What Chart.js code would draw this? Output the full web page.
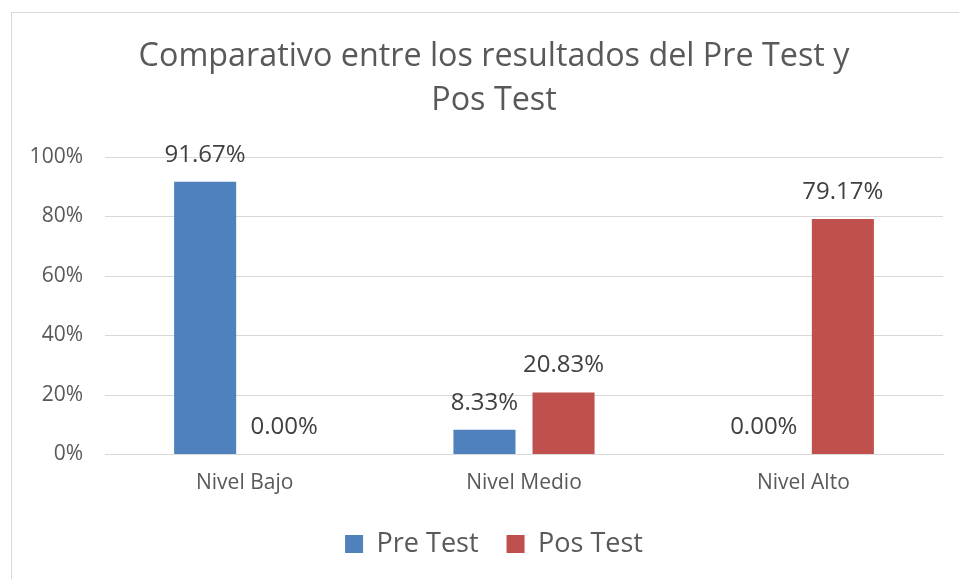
<!DOCTYPE html>
<html>
<head>
<meta charset="utf-8">
<script src="https://cdn.jsdelivr.net/npm/chart.js@4/dist/chart.umd.min.js"></script>
<style>
  html, body { margin: 0; padding: 0; background: #ffffff; }
  #wrap { position: relative; width: 959px; height: 579px; }
</style>
</head>
<body>
<div id="wrap"><canvas id="c" width="959" height="579"></canvas></div>
<script>
const titleLines = ["Comparativo entre los resultados del Pre Test y", "Pos Test"];
const categories = ["Nivel Bajo", "Nivel Medio", "Nivel Alto"];
const seriesNames = ["Pre Test", "Pos Test"];
const preTest = [91.67, 8.33, 0.00];
const posTest = [0.00, 20.83, 79.17];
const yTicks = [0, 20, 40, 60, 80, 100];

const frame = {
  id: 'frame',
  beforeDraw(chart) {
    const ctx = chart.ctx;
    ctx.save();
    ctx.fillStyle = '#ffffff';
    ctx.fillRect(0, 0, chart.width, chart.height);
    ctx.strokeStyle = '#d9d9d9';
    ctx.lineWidth = 1;
    ctx.strokeRect(11.5, 12.5, 1000, 1000);
    ctx.restore();
  }
};

const valueLabels = {
  id: 'valueLabels',
  afterDatasetsDraw(chart) {
    const ctx = chart.ctx;
    ctx.save();
    ctx.font = '24px "Open Sans"';
    ctx.fillStyle = '#404040';
    ctx.textAlign = 'center';
    ctx.textBaseline = 'middle';
    chart.data.datasets.forEach((ds, di) => {
      chart.getDatasetMeta(di).data.forEach((bar, i) => {
        ctx.fillText(ds.data[i].toFixed(2) + '%', bar.x, bar.y - 27);
      });
    });
    ctx.restore();
  }
};

new Chart(document.getElementById('c'), {
  type: 'bar',
  data: {
    labels: categories,
    datasets: [
      { label: seriesNames[0], data: preTest, backgroundColor: '#4F81BD', borderWidth: 0,
        categoryPercentage: 0.566, barPercentage: 0.785 },
      { label: seriesNames[1], data: posTest, backgroundColor: '#C0504D', borderWidth: 0,
        categoryPercentage: 0.566, barPercentage: 0.785 }
    ]
  },
  options: {
    responsive: false,
    animation: false,
    devicePixelRatio: 1,
    layout: { padding: { top: 35, bottom: 11.5, left: 45, right: 16 } },
    plugins: {
      title: {
        display: true,
        text: titleLines,
        color: '#595959',
        font: { family: '"Open Sans"', size: 32.3, weight: 'normal', lineHeight: 44 / 32.3 },
        padding: { top: 0, bottom: 34 }
      },
      legend: {
        position: 'bottom',
        labels: {
          color: '#595959',
          font: { family: '"Open Sans"', size: 27 },
          boxWidth: 18,
          boxHeight: 18,
          padding: 28
        }
      },
      tooltip: { enabled: false }
    },
    scales: {
      x: {
        grid: { display: false, drawTicks: false },
        border: { display: true, color: '#d9d9d9', width: 1 },
        ticks: { color: '#595959', font: { family: '"Open Sans"', size: 21 }, padding: 16 },
        afterFit(s) { s.height = 48; }
      },
      y: {
        min: 0, max: 100,
        afterBuildTicks(s) { s.ticks = yTicks.map(v => ({ value: v })); },
        grid: { color: '#d9d9d9', drawTicks: false },
        border: { display: false },
        ticks: {
          color: '#595959',
          font: { family: '"Open Sans"', size: 21 },
          padding: 22,
          callback: v => v + '%'
        },
        afterFit(s) {
          s.width = 60;
          s._computeLabelArea = () => undefined;
        }
      }
    }
  },
  plugins: [frame, valueLabels]
});
</script>
</body>
</html>
